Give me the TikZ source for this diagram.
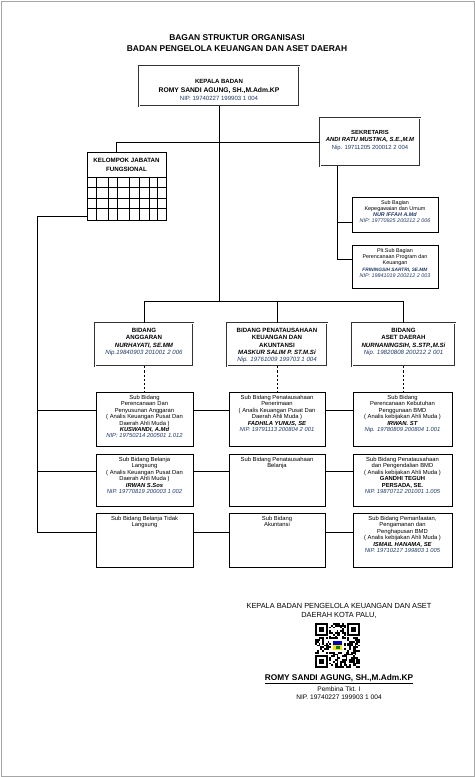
\documentclass[tikz,border=0pt]{standalone}
\usepackage{fontspec}
\setmainfont{Liberation Sans}
\usetikzlibrary{positioning}
\definecolor{nipblue}{RGB}{31,56,100}
\newcommand\fs[2]{\fontsize{#1}{#2}\selectfont}

\begin{document}
\begin{tikzpicture}[x=0.5mm, y=-0.5mm, every node/.style={align=center, inner sep=0pt},
        boxed/.style={draw, line width=0.6pt}, dbl/.style={draw=black!80, double, double distance=1.1pt, line width=0.5pt},
        lbl/.style={font=\fs{8.3}{9.2}}, small/.style={font=\fs{7.7}{8.7}}, bid/.style={font=\fs{8.7}{10.5}}]
    \useasboundingbox (0,0) rectangle (475,777);
    \draw[black!35, line width=0.4pt] (1,1) rectangle (474,776);
    \node[font=\fs{12}{15.6}\bfseries] (judul) at (237,43.5) {BAGAN STRUKTUR ORGANISASI\\BADAN PENGELOLA KEUANGAN DAN ASET DAERAH};

    \node[dbl, minimum width=80mm, minimum height=20mm] (kepala) at (219,86) {};
    \node[font=\fs{8.6}{12.5}] (kepalat) at (219,90) {\textbf{KEPALA BADAN}\\\textbf{\fs{9.6}{12.5}ROMY SANDI AGUNG, SH.,M.Adm.KP}\\\textcolor{nipblue}{NIP. 19740227 199903 1 004}};

    \node[dbl, minimum width=50mm, minimum height=24mm] (sek) at (370,142) {};
    \node[font=\fs{8.4}{10.5}] (sekt) at (370,140.5) {\textbf{SEKRETARIS}\\\textbf{\textit{ANDI RATU MUSTIKA, S.E.,M.M}}\\\textcolor{nipblue}{Nip. 19711205 200012 2 004}};

    \node[boxed, minimum width=43mm, minimum height=17.5mm] (umum) at (395,214.5) {};
    \node[small] (umumt) at (395,211.5) {Sub Bagian\\Kepegawaian dan Umum\\\textcolor{nipblue}{\textbf{\textit{NUR IFFAH A.Md}}}\\\textcolor{nipblue}{\textit{NIP: 19770925 200212 2 006}}};
    \node[boxed, minimum width=43mm, minimum height=21.5mm] (prog) at (395,266.5) {};
    \node[small] (progt) at (395,263) {Plt.Sub Bagian\\Perencanaan Program dan\\Keuangan\\\textcolor{nipblue}{\fs{6.8}{8.7}\textbf{\textit{FRININGSIH SARTRI, SE.MM}}}\\\textcolor{nipblue}{\textit{NIP: 19841019 200212 2 003}}};

    \node[boxed, minimum width=39.5mm, minimum height=34mm] (kjf) at (126.5,186) {};
    \node[font=\fs{8.8}{12.7}\bfseries] (kjft) at (126.5,164.5) {KELOMPOK JABATAN\\FUNGSIONAL};
    \foreach \gy in {177,187,198,208} \draw[line width=0.6pt] (87,\gy) -- (166,\gy);
    \foreach \gx in {96,108,117,129,139,149,157} \draw[line width=0.6pt] (\gx,177) -- (\gx,220);

    \node[dbl, minimum width=49mm, minimum height=21.5mm] (bA) at (144,344.5) {};
    \node[bid, below=2.5mm of bA.north] (bAt) {\textbf{BIDANG}\\\textbf{ANGGARAN}\\\textbf{\textit{NURHAYATI, SE.MM}}\\\textcolor{nipblue}{\textit{Nip.19840903 201001 2 006}}};
    \node[dbl, minimum width=50mm, minimum height=21.5mm] (bB) at (277,344.5) {};
    \node[bid, below=2.5mm of bB.north] (bBt) {\textbf{BIDANG PENATAUSAHAAN}\\\textbf{KEUANGAN DAN}\\\textbf{AKUNTANSI}\\\textbf{\textit{MASKUR SALIM P. ST.M.Si}}\\\textcolor{nipblue}{\textit{Nip. 19761009 199703 1 004}}};
    \node[dbl, minimum width=51.5mm, minimum height=21.5mm] (bC) at (403.5,344.5) {};
    \node[bid, below=2.5mm of bC.north] (bCt) {\textbf{BIDANG}\\\textbf{ASET DAERAH}\\\textbf{\textit{NURNANINGSIH, S.STP.,M.Si}}\\\textcolor{nipblue}{\textit{Nip. 19820808 200212 2 001}}};

    \node[boxed, minimum width=48.5mm, minimum height=27mm] (a1) at (144.5,419) {};
    \node[lbl, below=1.5mm of a1.north] (a1t) {Sub Bidang\\Perencanaan Dan\\Penyusunan Anggaran\\( Analis Keuangan Pusat Dan\\Daerah Ahli Muda )\\\textbf{\textit{KUSWANDI, A.Md}}\\\textcolor{nipblue}{\textit{NIP: 19750214 200501 1.012}}};
    \node[boxed, minimum width=48mm, minimum height=27mm] (b1) at (277,419) {};
    \node[lbl, below=1.5mm of b1.north] (b1t) {Sub Bidang Penatausahaan\\Penerimaan\\( Analis Keuangan Pusat Dan\\Daerah Ahli Muda )\\\textbf{\textit{FADHILA YUNUS, SE}}\\\textcolor{nipblue}{\textit{NIP. 19791113 200804 2 001}}};
    \node[boxed, minimum width=49.5mm, minimum height=27mm] (c1) at (402.5,419) {};
    \node[lbl, below=1.5mm of c1.north] (c1t) {Sub Bidang\\Perencanaan Kebutuhan\\Penggunaan BMD\\( Analis kebijakan Ahli Muda )\\\textbf{\textit{IRWAN. ST}}\\\textcolor{nipblue}{\textit{Nip. 19780809 200804 1.001}}};

    \node[boxed, minimum width=48.5mm, minimum height=26mm] (a2) at (144.5,480) {};
    \node[lbl, below=1.5mm of a2.north] (a2t) {Sub Bidang Belanja\\Langsung\\( Analis Keuangan Pusat Dan\\Daerah Ahli Muda )\\\textbf{\textit{IRWAN S.Sos}}\\\textcolor{nipblue}{\textit{NIP. 19770819 200003 1 002}}};
    \node[boxed, minimum width=48mm, minimum height=26mm] (b2) at (277,480) {};
    \node[lbl, below=1.5mm of b2.north] (b2t) {Sub Bidang Penatausahaan\\Belanja};
    \node[boxed, minimum width=49.5mm, minimum height=26mm] (c2) at (402.5,480) {};
    \node[lbl, below=1.5mm of c2.north] (c2t) {Sub Bidang Penatausahaan\\dan Pengendalian BMD\\( Analis kebijakan Ahli Muda )\\\textbf{GANDHI TEGUH}\\\textbf{PERSADA, SE.}\\\textcolor{nipblue}{\textit{NIP. 19870712 201001 1.005}}};

    \node[boxed, minimum width=48.5mm, minimum height=27mm] (a3) at (144.5,540) {};
    \node[lbl, below=1.5mm of a3.north] (a3t) {Sub Bidang Belanja Tidak\\Langsung};
    \node[boxed, minimum width=48mm, minimum height=27mm] (b3) at (277,540) {};
    \node[lbl, below=1.5mm of b3.north] (b3t) {Sub Bidang\\Akuntansi};
    \node[boxed, minimum width=49.5mm, minimum height=27mm] (c3) at (402.5,540) {};
    \node[lbl, below=1.5mm of c3.north] (c3t) {Sub Bidang Pemanfaatan,\\Pengamanan dan\\Penghapusan BMD\\( Analis kebijakan Ahli Muda )\\\textbf{\textit{ISMAIL HANAMA, SE}}\\\textcolor{nipblue}{\textit{NIP. 19710217 199803 1 005}}};

    \coordinate (bus) at (0,301);
    \coordinate (vx) at ([xshift=8.5mm]sek.south west);
    \coordinate (kt) at ([xshift=-5.25mm]kjf.north);
    \coordinate (sp) at (37,216);
    \coordinate (r1) at (37,410);
    \coordinate (r2) at (37,471);
    \coordinate (r3) at (37,532);
    \begin{scope}[line width=0.6pt]
        \draw (kepala.south) -- (kepala.south |- bus);
        \draw (bA.north |- bus) -- (bC.north |- bus);
        \foreach \n in {bA,bB,bC} \draw (\n.north) -- (\n.north |- bus);
        \draw (kt) |- (sek.west);
        \draw (vx) |- ([yshift=3.75mm]prog.west);
        \draw ([yshift=-3.75mm]umum.west) -- ([yshift=-3.75mm]umum.west -| vx);
        \draw[dashed] (bA.south) -- (bA.south |- a1.north);
        \draw[dashed] (bB.south) -- (bB.south |- b1.north);
        \draw[dashed] (bC.south) -- (bC.south |- c1.north);
        \draw (kjf.west |- sp) -- (sp) -- (r3) -- (r3 -| a3.west);
        \draw (r1) -- (r1 -| a1.west);
        \draw (r2) -- (r2 -| a2.west);
        \draw (r1 -| a1.east) -- (r1 -| b1.west);
        \draw (r1 -| b1.east) -- (r1 -| c1.west);
        \draw (r2 -| a2.east) -- (r2 -| b2.west);
        \draw (r2 -| b2.east) -- (r2 -| c2.west);
        \draw (r3 -| a3.east) -- (r3 -| b3.west);
        \draw (r3 -| b3.east) -- (r3 -| c3.west);
    \end{scope}

    \node[font=\fs{10.5}{11.8}] (ttd) at (339,611) {KEPALA BADAN PENGELOLA KEUANGAN DAN ASET\\DAERAH KOTA PALU,};
    \pgfmathsetseed{11}
    \foreach \i in {0,...,24}{\foreach \j in {0,...,24}{%
        \pgfmathrandominteger{\q}{0}{1}%
        \ifnum\q=1 \fill (315+1.8*\i,623+1.8*\j) rectangle ++(1.8,1.8);\fi}}
    \foreach \fx/\fy in {315/623,345.6/623,315/653.6} \fill[white] (\fx,\fy) rectangle ++(14.4,14.4);
    \foreach \fx/\fy in {315/623,347.4/623,315/655.4}{
        \fill (\fx,\fy) rectangle ++(12.6,12.6);
        \fill[white] (\fx+1.8,\fy+1.8) rectangle ++(9,9);
        \fill (\fx+3.6,\fy+3.6) rectangle ++(5.4,5.4);}
    \fill[white] (331.2,639.2) rectangle ++(12.6,12.6);
    \fill[blue!70!black] (333,641) rectangle ++(9,4);
    \fill[yellow!80!orange] (333,645) rectangle ++(9,5);
    \fill[green!50!black] (335.5,646) rectangle ++(4,3);
    \node[font=\fs{11.8}{14}\bfseries] (nama) at (339,679) {\underline{ROMY SANDI AGUNG, SH.,M.Adm.KP}};
    \node[font=\fs{9.4}{11.4}] (pangkat) at (339,693) {Pembina Tkt. I\\NIP. 19740227 199903 1 004};
\end{tikzpicture}
\end{document}
